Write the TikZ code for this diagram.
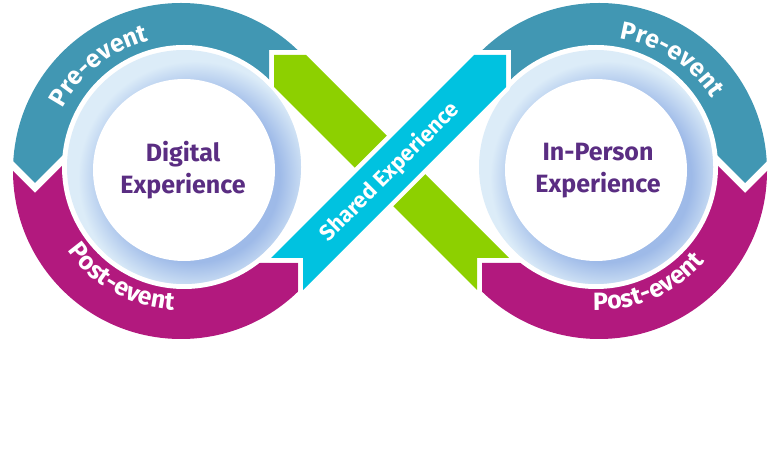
\documentclass[tikz,border=0pt]{standalone}
\usepackage{fontspec}
\setmainfont{Fira Sans}
\usetikzlibrary{decorations.text}
\definecolor{ringteal}{RGB}{65,151,179}
\definecolor{ringmagenta}{RGB}{178,25,126}
\definecolor{bandgreen}{RGB}{141,208,0}
\definecolor{bandcyan}{RGB}{0,194,224}
\definecolor{labelpurple}{RGB}{90,45,130}
\definecolor{glowlight}{RGB}{220,236,248}
\definecolor{glowdark}{RGB}{158,186,232}
\pgfdeclareradialshading{glow}{\pgfpoint{0bp}{0bp}}{color(0bp)=(glowdark); color(18bp)=(glowdark); color(25bp)=(glowlight); color(50bp)=(glowlight)}

\begin{document}
\begin{tikzpicture}[x=1pt, y=1pt,
    centre/.style={text=labelpurple, font=\fontsize{25}{32}\selectfont\bfseries, align=center},
    ringlabel/.style={decorate, decoration={text along path, text align=center,
      text color=white, text={|\fontsize{25}{30}\selectfont\bfseries|#1}}},
    cyanband/.style={fill=bandcyan, preaction={draw=white, line width=9, line join=round}}]
    \useasboundingbox (0,0) rectangle (768,471);
    % the two rings, the right one mirrored about x=390
    \foreach \side in {1,-1}{
      \begin{scope}[xshift={390-390*\side}, xscale=\side]
        \begin{scope}
          \clip (181,300) circle (168);
          \fill[ringteal] (269,380) -- (269,421) -- (400,421) -- (400,480) -- (-10,480)
            -- (-10,333) -- (35,288) -- (120,373) -- cycle;
          \fill[ringmagenta] (-10,323) -- (35,278) -- (105,348) -- (184,300) -- (230,208)
            -- (298,208) -- (298,100) -- (-10,100) -- cycle;
        \end{scope}
        \fill[white] (184,304) circle (122);
      \end{scope}
    }
    % glowing discs
    \foreach \cx in {184,596}{
      \fill[glowlight] (\cx,304) circle (117);
      \begin{scope}
        \clip (\cx,304) circle (117);
        \shade[shading=glow] (\cx+11,293) circle (117);
      \end{scope}
      \fill[white] (\cx,301) circle (91);
    }
    % crossing bands
    \begin{scope}[shift={(390,300)}]
      \fill[bandgreen] (-116,116) -- (-84,116) -- (119,-87) -- (87,-87) -- (87,-119)
        -- (-116,84) -- cycle;
      \path[cyanband] (84,116) -- (116,116) -- (116,84) -- (-87,-119) -- (-87,-87)
        -- (-119,-87) -- cycle;
      \node[rotate=45, text=white, font=\fontsize{22}{26}\selectfont\bfseries] (shared)
        at (0,-1) {Shared Experience};
    \end{scope}
    % ring labels
    \path[shift={(181,300)}, ringlabel=Pre-event] (176:134) arc[start angle=176, end angle=80, radius=134];
    \path[shift={(181,300)}, ringlabel=Post-event] (193:139) arc[start angle=193, end angle=289, radius=139];
    \path[shift={(599,300)}, ringlabel=Pre-event] (105:134) arc[start angle=105, end angle=9, radius=134];
    \path[shift={(599,300)}, ringlabel=Post-event] (246:139) arc[start angle=246, end angle=341, radius=139];
    \node[centre] (digital) at (183,301) {Digital\\Experience};
    \node[centre] (inperson) at (598,300) {In-Person\\Experience};
\end{tikzpicture}
\end{document}
